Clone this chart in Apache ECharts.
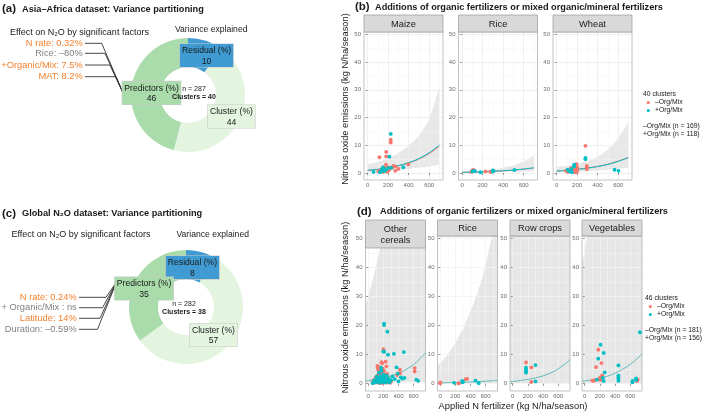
<!DOCTYPE html>
<html><head><meta charset="utf-8">
<script src="https://cdn.jsdelivr.net/npm/echarts@6/dist/echarts.min.js"></script>
<style>html,body{margin:0;padding:0;background:#fff}#c{width:709px;height:414px}</style>
</head><body><div id="c"></div>
<script>
// ---------------- data ----------------
const varNames = ['Residual (%)', 'Cluster (%)', 'Predictors (%)'];
const varA = [10, 44, 46];
const varC = [8, 57, 35];
const nA = 287, clustersA = 40, nC = 282, clustersC = 38;
const factorsA = ['N rate: 0.32%', 'Rice: –80%', '+Organic/Mix: 7.5%', 'MAT: 8.2%'];
const factorsAsig = [true, false, true, true];
const factorsC = ['N rate: 0.24%', '+ Organic/Mix : {i|ns}', 'Latitude: 14%', 'Duration: –0.59%'];
const factorsCsig = [true, false, true, false];
const cropsB = ['Maize', 'Rice', 'Wheat'];
const cropsD = ['Other\ncereals', 'Rice', 'Row crops', 'Vegetables'];
const yTicks = [0, 10, 20, 30, 40, 50];
const yMinor = [5, 15, 25, 35, 45];
const xTicks = [0, 200, 400, 600];
const xMinor = [100, 300, 500, 700];

// (b) points [N rate, N2O]
const bMaizeNo = [[116,5.7],[226,12.0],[226,11.0],[181,7.6],[181,6.0],[397,3.1],[300,1.5],[270,2.4],[270,0.8],[120,1.0],[130,0.8],[150,1.2],[160,2.0],[170,1.5],[180,3.0],[185,1.0],[190,0.5],[200,2.0],[210,1.2],[220,1.8],[240,2.0],[250,2.6],[150,0.4],[200,0.9],[105,0.6]];
const bMaizeOrg = [[58,0.4],[226,14.1],[213,5.9],[348,2.1],[120,0.3],[140,1.5],[150,2.0],[155,1.0],[165,0.7],[180,1.3],[200,1.8],[230,1.9],[140,0.8]];
const bRiceNo = [[90,0.4],[100,1.0],[110,1.1],[120,0.9],[230,0.6],[275,0.5],[280,0.4],[300,0.8]];
const bRiceOrg = [[100,0.6],[115,0.8],[125,0.7],[180,0.3],[300,1.0],[300,0.5],[305,0.9],[510,1.1]];
const bWheatNo = [[281,9.8],[294,2.6],[294,2.0],[294,1.4],[194,3.2],[200,2.0],[200,1.2],[200,0.6],[90,0.8],[110,0.4],[120,1.0],[150,0.8],[140,1.8],[170,1.3],[185,0.3],[160,0.5]];
const bWheatOrg = [[281,5.5],[281,5.0],[171,2.4],[171,3.0],[145,1.5],[125,0.6],[107,1.2],[150,0.3],[565,1.2],[603,0.8]];

// (b) fitted curves and confidence band
const fitXB = [0, 100, 200, 300, 400, 500, 600, 700];
const bMaizeFitNo = [0.95,1.3,1.85,2.6,3.6,5.0,7.0,9.6];
const bMaizeFitOrg = [1.0,1.35,1.9,2.7,3.75,5.2,7.3,10.1];
const bMaizeLo = [0.35,0.55,0.8,1.1,1.5,1.9,2.4,2.9];
const bMaizeHi = [3.2,4.0,5.3,7.2,9.8,13.5,19.5,31];
const bRiceFitNo = [0.25,0.33,0.45,0.6,0.8,1.05,1.4,1.8];
const bRiceFitOrg = [0.27,0.35,0.47,0.63,0.83,1.1,1.45,1.9];
const bRiceLo = [0.1,0.15,0.22,0.3,0.38,0.45,0.5,0.55];
const bRiceHi = [0.5,0.65,0.9,1.3,1.9,2.8,4.2,6.2];
const bWheatFitNo = [0.75,1.0,1.35,1.8,2.4,3.2,4.3,5.7];
const bWheatFitOrg = [0.7,0.95,1.3,1.75,2.35,3.1,4.2,5.5];
const bWheatLo = [0.2,0.3,0.45,0.65,0.9,1.2,1.55,1.9];
const bWheatHi = [2.2,2.6,3.3,4.3,5.9,8.4,12.5,18.5];

// (d) points
const dOtherNo = [[122,6.1],[125,5.6],[130,4.8],[140,5.8],[175,7.4],[185,7.0],[200,11.9],[205,11.2],[230,7.6],[240,6.0],[418,4.8],[613,5.4],[613,4.2],[420,3.6],[380,3.0],[60,0.5],[70,1.0],[80,0.3],[90,1.5],[100,0.8],[100,2.2],[110,1.2],[120,0.4],[120,2.8],[130,1.8],[140,0.6],[140,3.2],[150,1.0],[150,2.4],[160,0.2],[160,4.0],[170,1.4],[170,2.9],[180,0.7],[180,3.6],[190,1.9],[190,0.3],[200,0.9],[200,2.6],[210,4.4],[210,1.3],[220,0.5],[220,3.0],[230,1.7],[240,0.8],[250,2.1],[250,0.4],[260,1.2],[270,0.6],[280,1.0],[290,0.3],[300,0.8],[150,5.0],[190,5.2],[250,3.4]];
const dOtherOrg = [[209,20.7],[209,20.2],[253,17.9],[200,11.1],[210,11.0],[261,10.0],[339,10.3],[470,10.9],[374,5.6],[390,3.5],[430,2.2],[450,1.8],[480,2.0],[635,1.4],[660,1.0],[60,0.2],[80,1.2],[100,0.5],[110,2.4],[120,1.6],[130,0.9],[140,3.8],[150,0.3],[155,1.9],[160,2.6],[170,0.8],[175,4.5],[180,1.5],[190,2.2],[195,0.6],[200,3.2],[205,1.1],[215,2.0],[225,0.4],[235,1.4],[245,2.8],[255,0.9],[265,1.8],[280,0.5],[300,1.2],[320,2.5],[350,1.6],[400,0.8],[170,5.5]];
const dRiceNo = [[0,0.5],[0,0.1],[240,0.1],[250,0.2],[335,1.6],[355,1.7]];
const dRiceOrg = [[183,0.3],[290,1.0],[295,0.5],[300,0.7],[465,1.1],[508,0.2]];
const dRowNo = [[175,7.3],[245,5.6],[245,0.6]];
const dRowOrg = [[175,5.5],[175,4.9],[175,4.3],[175,3.8],[300,6.4],[300,0.8]];
const dVegNo = [[100,1.1],[115,1.0],[130,1.2],[150,5.7],[179,11.7],[221,7.1],[230,2.9],[200,2.0],[210,1.3],[180,1.5],[685,1.2],[700,1.4],[690,0.9]];
const dVegOrg = [[209,13.4],[251,10.6],[179,8.6],[264,3.9],[160,1.4],[240,2.0],[250,0.9],[445,6.3],[445,2.8],[445,2.2],[445,1.6],[445,1.0],[631,1.0],[631,0.5],[678,1.8],[680,1.3],[729,17.7]];

// (d) fitted curve and confidence band
const fitXD = [-36, 0, 50, 100, 150, 200, 300, 400, 500, 600, 700, 756];
const dOtherFit = [1.0,1.1,1.3,1.5,1.7,2.0,2.7,3.6,4.9,6.6,9.0,10.6];
const dOtherLo = [0.2,0.2,0.22,0.25,0.28,0.3,0.35,0.4,0.45,0.5,0.55,0.6];
const dOtherHi = [27,30,35,40,46,53,70,95,130,180,250,300];
const dRiceFit = [0.28,0.3,0.33,0.36,0.39,0.42,0.5,0.6,0.72,0.86,1.05,1.15];
const dRiceLo = [0.05,0.05,0.05,0.05,0.05,0.05,0.06,0.06,0.07,0.07,0.08,0.08];
const dRiceHi = [6,7,8.5,10,12,14,19,25,32,41,53,60];
const dRowFit = [0.65,0.8,0.92,1.1,1.28,1.5,2.0,2.7,3.7,5.1,7.0,8.3];
const dRowLo = [0.1,0.1,0.1,0.1,0.1,0.1,0.12,0.14,0.16,0.18,0.2,0.22];
const dRowHi = [60,65,72,80,88,96,115,140,170,210,260,300];
const dVegFit = [0.9,1.0,1.15,1.3,1.55,1.9,2.6,3.6,5.0,6.6,8.8,10.3];
const dVegLo = [0.1,0.1,0.1,0.1,0.1,0.12,0.14,0.16,0.18,0.2,0.22,0.24];
const dVegHi = [41,46,54,61,70,80,105,140,185,245,320,370];

// ---------------- styling ----------------
const FONT = '"Liberation Sans", Arial, Helvetica, sans-serif';
const RED = '#F8766D', CYAN = '#00BFC4', ORANGE = '#F2812E', GREYTXT = '#808080';
const pieColors = ['#3f9bd2', '#e3f4df', '#a9dbab'];

const chart = echarts.init(document.getElementById('c'), null, {renderer: 'canvas', width: 709, height: 414});

const grids = [], xAxes = [], yAxes = [], series = [], graphics = [];

function addPanel(left, top, w, h, xmin, xmax, ymin, ymax, gridColor, minorColor) {
  grids.push({left, top, width: w, height: h, show: true, backgroundColor: 'transparent', borderColor: '#b3b3b3', borderWidth: 0.8, z: 2.5});
  const gi = grids.length - 1;
  const common = {gridIndex: gi, type: 'value', axisLine: {show: false}, z: 1.5};
  xAxes.push(Object.assign({}, common, {min: xmin, max: xmax,
    axisTick: {show: true, length: 2, lineStyle: {color: '#555', width: 0.6}, customValues: xTicks},
    axisLabel: {customValues: xTicks, fontSize: 6, color: '#6b6b6b', margin: 2.5, fontFamily: FONT},
    splitLine: {show: true, lineStyle: {color: gridColor, width: 0.8}}}));
  xAxes.push(Object.assign({}, common, {min: xmin, max: xmax,
    axisTick: {show: false, customValues: xMinor}, axisLabel: {show: false},
    splitLine: {show: true, lineStyle: {color: minorColor, width: 0.5}}}));
  yAxes.push(Object.assign({}, common, {min: ymin, max: ymax,
    axisTick: {show: true, length: 2, lineStyle: {color: '#555', width: 0.6}, customValues: yTicks},
    axisLabel: {customValues: yTicks, fontSize: 6, color: '#6b6b6b', margin: 3, fontFamily: FONT},
    splitLine: {show: true, lineStyle: {color: gridColor, width: 0.8}}}));
  yAxes.push(Object.assign({}, common, {min: ymin, max: ymax,
    axisTick: {show: false, customValues: yMinor}, axisLabel: {show: false},
    splitLine: {show: true, lineStyle: {color: minorColor, width: 0.5}}}));
  return 2 * gi;
}
function scatter(ai, data, color) {
  series.push({type: 'scatter', xAxisIndex: ai, yAxisIndex: ai, data, symbol: 'circle', symbolSize: 3.8,
    itemStyle: {color, opacity: 1}, z: 4, silent: true, animation: false});
}
function curve(ai, xs, ys, color, width) {
  series.push({type: 'line', xAxisIndex: ai, yAxisIndex: ai, data: xs.map((x, i) => [x, ys[i]]), symbol: 'none',
    smooth: 0.3, lineStyle: {color, width: width || 1}, z: 3, silent: true, animation: false});
}
// confidence band: grey area under the upper bound, then white area under the lower bound
function ribbon(ai, xs, lo, hi, color) {
  series.push({type: 'line', xAxisIndex: ai, yAxisIndex: ai, data: xs.map((x, i) => [x, hi[i]]),
    symbol: 'none', smooth: 0.3, lineStyle: {width: 0, opacity: 0}, areaStyle: {color, opacity: 1, origin: 'start'}, z: 1, silent: true, animation: false});
  series.push({type: 'line', xAxisIndex: ai, yAxisIndex: ai, data: xs.map((x, i) => [x, lo[i]]),
    symbol: 'none', smooth: 0.3, lineStyle: {width: 0, opacity: 0}, areaStyle: {color: '#ffffff', opacity: 1, origin: 'start'}, z: 1.1, silent: true, animation: false});
}
function T(x, y, text, opt) {
  return {type: 'text', x, y, z: 100, silent: true, style: Object.assign({text, fontSize: 9, fontFamily: FONT, fill: '#1a1a1a',
    align: 'left', verticalAlign: 'middle', rich: {i: {fontStyle: 'italic'}, b: {fontWeight: 'bold'}}}, opt || {})};
}
function strip(x, y, w, h, label) {
  graphics.push({type: 'rect', z: 99, silent: true, shape: {x, y, width: w, height: h}, style: {fill: '#d9d9d9', stroke: '#9a9a9a', lineWidth: 0.7}});
  graphics.push(T(x + w / 2, y + h / 2 + 0.5, label, {align: 'center', fontSize: 9.3, lineHeight: 11, fill: '#1a1a1a'}));
}

// ---------------- panels (b) ----------------
const bLeft = [364, 458.5, 553], bTop = 32, bW = 79, bH = 148;
const bData = [
  [bMaizeNo, bMaizeOrg, bMaizeFitNo, bMaizeFitOrg, bMaizeLo, bMaizeHi],
  [bRiceNo, bRiceOrg, bRiceFitNo, bRiceFitOrg, bRiceLo, bRiceHi],
  [bWheatNo, bWheatOrg, bWheatFitNo, bWheatFitOrg, bWheatLo, bWheatHi]
];
bData.forEach((d, k) => {
  const ai = addPanel(bLeft[k], bTop, bW, bH, -35, 735, -2.5, 50.8, '#ebebeb', '#f5f5f5');
  ribbon(ai, fitXB, d[4], d[5], '#e8e8e8');
  curve(ai, fitXB, d[2], RED, 1);
  curve(ai, fitXB, d[3], CYAN, 1);
  scatter(ai, d[0], RED);
  scatter(ai, d[1], CYAN);
  strip(bLeft[k], 15, bW, 17, cropsB[k]);
});

// ---------------- panels (d) ----------------
const dLeft = [365.5, 437.5, 510, 582], dTop = 236, dW = 60, dH = 155;
const dData = [
  [dOtherNo, dOtherOrg, dOtherFit, dOtherLo, dOtherHi],
  [dRiceNo, dRiceOrg, dRiceFit, dRiceLo, dRiceHi],
  [dRowNo, dRowOrg, dRowFit, dRowLo, dRowHi],
  [dVegNo, dVegOrg, dVegFit, dVegLo, dVegHi]
];
dData.forEach((d, k) => {
  const ai = addPanel(dLeft[k], dTop, dW, dH, -36, 756, -2.5, 50.8, '#f3f3f3', '#f6f6f6');
  ribbon(ai, fitXD, d[3], d[4], '#e6e6e6');
  curve(ai, fitXD, d[2], '#62b9b9', 1);
  scatter(ai, d[0], RED);
  scatter(ai, d[1], CYAN);
  strip(dLeft[k], 220, dW, k === 0 ? 28 : 16, cropsD[k]);
});

// ---------------- donuts (a), (c) ----------------
const R0 = 28, R1 = 57;
function donut(center, values, nudges) {
  series.push({type: 'pie', center, radius: [R0, R1], startAngle: 90, clockwise: true, silent: true, animation: false,
    data: varNames.map((n, i) => ({name: n, value: values[i], itemStyle: {color: pieColors[i]}})),
    label: {show: false}, labelLine: {show: false}, itemStyle: {borderWidth: 0}});
  // slice labels (boxed, like geom_label), placed around the mid-angle of each slice
  const total = values.reduce((a, b) => a + b, 0);
  let acc = 0;
  values.forEach((v, i) => {
    const mid = (acc + v / 2) / total * 2 * Math.PI; acc += v;
    const rm = (R0 + R1) / 2;
    const x = center[0] + rm * Math.sin(mid) + nudges[i][0];
    const y = center[1] - rm * Math.cos(mid) + nudges[i][1];
    graphics.push(T(x, y, varNames[i] + '\n' + v, {align: 'center', fontSize: 8.6, lineHeight: 10.5,
      backgroundColor: pieColors[i], borderColor: '#c9c9c9', borderWidth: 0.6, padding: [1.5, 2, 0.5, 2]}));
  });
}
donut([188, 95], varA, [[5.4, 0.9], [5, 3.4], [5.7, 3.3]]);
donut([186, 307], varC, [[-4.1, 1.7], [-4.4, -0.1], [-4.1, 0.8]]);

// ---------------- texts ----------------
graphics.push(T(2, 9, '(a)', {fontSize: 11.5, fontWeight: 'bold'}));
graphics.push(T(22, 9.5, 'Asia–Africa dataset: Variance partitioning', {fontSize: 9.2, fontWeight: 'bold'}));
graphics.push(T(2, 214, '(c)', {fontSize: 11.5, fontWeight: 'bold'}));
graphics.push(T(22, 213.5, 'Global N₂O dataset: Variance partitioning', {fontSize: 9.2, fontWeight: 'bold'}));
graphics.push(T(355, 7, '(b)', {fontSize: 11.5, fontWeight: 'bold'}));
graphics.push(T(375, 7, 'Additions of organic fertilizers or mixed organic/mineral fertilizers', {fontSize: 9.2, fontWeight: 'bold'}));
graphics.push(T(357, 212, '(d)', {fontSize: 11.5, fontWeight: 'bold'}));
graphics.push(T(380, 211, 'Additions of organic fertilizers or mixed organic/mineral fertilizers', {fontSize: 9.2, fontWeight: 'bold'}));

graphics.push(T(10, 32.3, 'Effect on N₂O by significant factors', {fontSize: 9}));
graphics.push(T(175, 30, 'Variance explained', {fontSize: 8.6}));
graphics.push(T(11.5, 235, 'Effect on N₂O by significant factors', {fontSize: 9}));
graphics.push(T(176.5, 235, 'Variance explained', {fontSize: 8.6}));

const fAy = [43.3, 53.3, 65, 76.7], fAh = [101.7, 105, 110, 116], convA = [123.5, 94];
factorsA.forEach((t, i) => {
  graphics.push(T(82.7, fAy[i], t, {align: 'right', fontSize: 9.3, fill: factorsAsig[i] ? ORANGE : GREYTXT}));
  graphics.push({type: 'polyline', z: 50, silent: true, shape: {points: [[85, fAy[i]], [fAh[i], fAy[i]], convA]}, style: {stroke: '#333', lineWidth: 0.9, fill: null}});
});
const fCy = [297.3, 307.7, 318.3, 329.3], fCh = [106, 102.5, 100, 97.5], convC = [116.7, 281.7];
factorsC.forEach((t, i) => {
  graphics.push(T(76.7, fCy[i], t, {align: 'right', fontSize: 9.3, fill: factorsCsig[i] ? ORANGE : GREYTXT}));
  graphics.push({type: 'polyline', z: 50, silent: true, shape: {points: [[79, fCy[i]], [fCh[i], fCy[i]], convC]}, style: {stroke: '#333', lineWidth: 0.9, fill: null}});
});

graphics.push(T(194, 89, '{i|n} = ' + nA, {align: 'center', fontSize: 7}));
graphics.push(T(194, 97.5, 'Clusters = ' + clustersA, {align: 'center', fontSize: 7, fontWeight: 'bold'}));
graphics.push(T(184, 304, '{i|n} = ' + nC, {align: 'center', fontSize: 7}));
graphics.push(T(184, 312.5, 'Clusters = ' + clustersC, {align: 'center', fontSize: 7, fontWeight: 'bold'}));

// axis titles
graphics.push(T(345, 99, 'Nitrous oxide emissions (kg N/ha/season)', {align: 'center', fontSize: 9.3}));
graphics[graphics.length - 1].rotation = Math.PI / 2;
graphics.push(T(345, 307.5, 'Nitrous oxide emissions (kg N/ha/season)', {align: 'center', fontSize: 9.3}));
graphics[graphics.length - 1].rotation = Math.PI / 2;
graphics.push(T(513, 406.7, 'Applied N fertilizer (kg N/ha/season)', {align: 'center', fontSize: 9.3}));

// legends
function legend(x, y, clusters, nNo, nOrg) {
  graphics.push(T(x, y, clusters + ' clusters', {fontSize: 6.8}));
  graphics.push({type: 'circle', z: 100, silent: true, shape: {cx: x + 5.3, cy: y + 8, r: 1.6}, style: {fill: RED}});
  graphics.push(T(x + 12, y + 8, '–Org/Mix', {fontSize: 6.8}));
  graphics.push({type: 'circle', z: 100, silent: true, shape: {cx: x + 5.3, cy: y + 16, r: 1.6}, style: {fill: CYAN}});
  graphics.push(T(x + 12, y + 16, '+Org/Mix', {fontSize: 6.8}));
  graphics.push(T(x, y + 31.5, '–Org/Mix ({i|n} = ' + nNo + ')', {fontSize: 6.8}));
  graphics.push(T(x, y + 39.5, '+Org/Mix ({i|n} = ' + nOrg + ')', {fontSize: 6.8}));
}
legend(643, 94.5, 40, 169, 118);
legend(645, 298.5, 46, 181, 156);

chart.setOption({
  animation: false,
  backgroundColor: '#fff',
  grid: grids, xAxis: xAxes, yAxis: yAxes, series, graphic: {elements: graphics}
});
</script></body></html>
